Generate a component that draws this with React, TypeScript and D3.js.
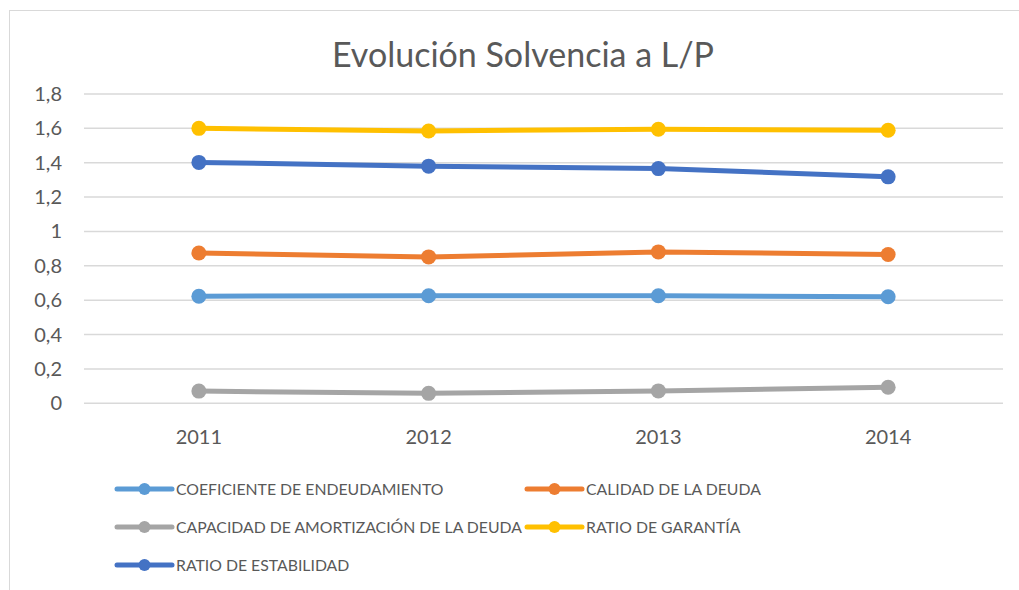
import React from "react";
import * as d3 from "d3";

const years = ["2011", "2012", "2013", "2014"];
const coeficiente = [0.623, 0.626, 0.626, 0.62];
const calidad = [0.875, 0.852, 0.881, 0.866];
const capacidad = [0.071, 0.058, 0.072, 0.093];
const garantia = [1.6, 1.585, 1.595, 1.589];
const estabilidad = [1.402, 1.38, 1.366, 1.318];
const yTicks = [0, 0.2, 0.4, 0.6, 0.8, 1, 1.2, 1.4, 1.6, 1.8];

const series = [
  { name: "COEFICIENTE DE ENDEUDAMIENTO", values: coeficiente, color: "#5B9BD5" },
  { name: "CALIDAD DE LA DEUDA", values: calidad, color: "#ED7D31" },
  { name: "CAPACIDAD DE AMORTIZACIÓN DE LA DEUDA", values: capacidad, color: "#A5A5A5" },
  { name: "RATIO DE GARANTÍA", values: garantia, color: "#FFC000" },
  { name: "RATIO DE ESTABILIDAD", values: estabilidad, color: "#4472C4" },
];

const W = 1019;
const H = 590;
const FONT = "Lato, 'Open Sans', sans-serif";

export default function App() {
  const x = d3.scaleBand<string>().domain(years).range([84, 1003]);
  const y = d3.scaleLinear().domain([0, 1.8]).range([403.3, 94]);
  const line = d3
    .line<number>()
    .x((_, i) => (x(years[i]) as number) + x.bandwidth() / 2)
    .y((d) => y(d));

  const legendPos = [
    { lx: 117, ly: 489 },
    { lx: 527, ly: 489 },
    { lx: 117, ly: 527 },
    { lx: 527, ly: 527 },
    { lx: 117, ly: 565 },
  ];

  return (
    <svg
      width={W}
      height={H}
      style={{ position: "absolute", left: 0, top: 0, background: "#fff" }}
    >
      <rect x={0} y={0} width={W} height={H} fill="#fff" />
      <rect x={9.5} y={10.5} width={W + 10} height={H + 10} fill="none" stroke="#D9D9D9" strokeWidth={1} />
      <text
        x={523}
        y={67}
        textAnchor="middle"
        fontFamily={FONT}
        fontSize={34}
        fill="#595959"
      >
        Evolución Solvencia a L/P
      </text>
      {yTicks.map((t) => (
        <g key={t}>
          <line x1={84} x2={1003} y1={y(t)} y2={y(t)} stroke="#D9D9D9" strokeWidth={1.5} />
          <text
            x={62}
            y={y(t)}
            dy="0.35em"
            textAnchor="end"
            fontFamily={FONT}
            fontSize={20}
            fill="#595959"
          >
            {String(t).replace(".", ",")}
          </text>
        </g>
      ))}
      {years.map((yr) => (
        <text
          key={yr}
          x={(x(yr) as number) + x.bandwidth() / 2}
          y={437}
          dy="0.35em"
          textAnchor="middle"
          fontFamily={FONT}
          fontSize={20}
          fill="#595959"
        >
          {yr}
        </text>
      ))}
      {series.map((s) => (
        <g key={s.name}>
          <path d={line(s.values) as string} fill="none" stroke={s.color} strokeWidth={5} strokeLinejoin="round" />
          {s.values.map((v, i) => (
            <circle
              key={i}
              cx={(x(years[i]) as number) + x.bandwidth() / 2}
              cy={y(v)}
              r={7.5}
              fill={s.color}
            />
          ))}
        </g>
      ))}
      {series.map((s, i) => {
        const { lx, ly } = legendPos[i];
        return (
          <g key={s.name}>
            <line x1={lx} x2={lx + 55} y1={ly} y2={ly} stroke={s.color} strokeWidth={5} strokeLinecap="round" />
            <circle cx={lx + 27.5} cy={ly} r={6} fill={s.color} />
            <text
              x={lx + 59}
              y={ly}
              dy="0.35em"
              fontFamily={FONT}
              fontSize={15.8}
              fill="#595959"
            >
              {s.name}
            </text>
          </g>
        );
      })}
    </svg>
  );
}
